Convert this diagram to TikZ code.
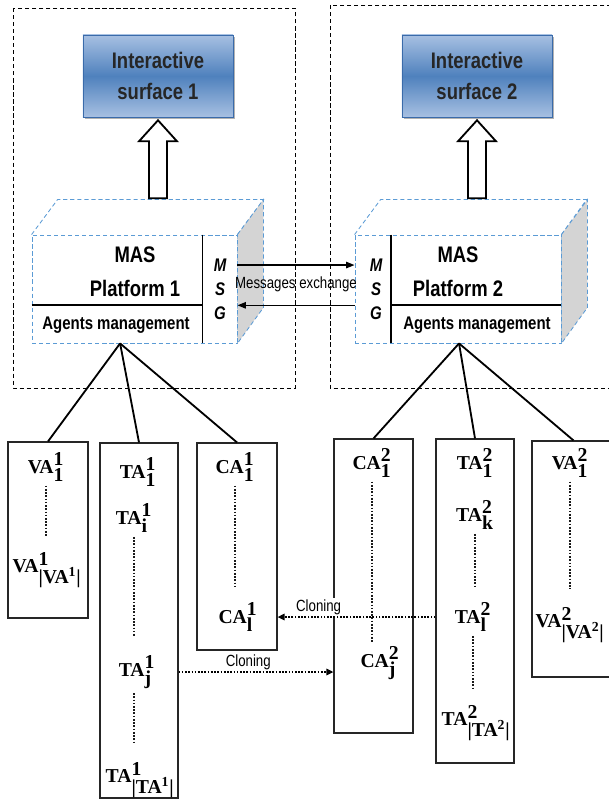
\documentclass[tikz,border=0pt]{standalone}
\usepackage{fontspec}
\setmainfont{Liberation Serif}
\setsansfont{Liberation Sans}[FakeStretch=0.82]
\usetikzlibrary{calc,fit,shadows,arrows.meta}
\definecolor{surfTop}{HTML}{A7C0E2}
\definecolor{surfMid}{HTML}{4F81BD}
\definecolor{surfLine}{HTML}{3A6BAA}
\definecolor{boxBlue}{HTML}{5B9BD5}
\definecolor{sideGray}{HTML}{D4D4D4}
\tikzset{
	outerframe/.style={draw, line width=0.6pt, dash pattern=on 3pt off 2pt},
	surface/.style={
			draw=surfLine, top color=surfTop, bottom color=surfTop, middle color=surfMid,
			minimum width=3.75cm, minimum height=2.05cm, inner sep=0pt, align=center,
			font=\sffamily\bfseries\fontsize{16}{22.5}\selectfont, text=black!85,
			drop shadow={shadow xshift=1.5pt, shadow yshift=-1.5pt, fill=black!60, opacity=0.5}
		},
	platface/.style={draw=boxBlue, line width=0.6pt, dash pattern=on 3pt off 2pt},
	plattext/.style={align=center, font=\sffamily\bfseries\fontsize{16}{24.5}\selectfont},
	mgmttext/.style={font=\sffamily\bfseries\fontsize{13}{15}\selectfont},
	msgtext/.style={align=center, font=\sffamily\bfseries\itshape\fontsize{13}{17}\selectfont},
	agbox/.style={draw=black!85, line width=0.8pt, inner sep=0pt},
	aglabel/.style={inner sep=1pt, font=\fontsize{14}{16}\selectfont},
	tree/.style={line width=1.3pt},
	dotline/.style={line width=1.4pt, dash pattern=on 1.2pt off 1.1pt, black!90},
	clone/.style={line width=1.4pt, dash pattern=on 1.2pt off 1.1pt, -{Triangle[length=5pt,width=4.5pt]}},
	msgarrow/.style={line width=1.1pt, -{Triangle[length=6pt,width=4.5pt]}},
	smalltext/.style={font=\sffamily\fontsize{11.5}{13}\selectfont, inner sep=1pt}
}
\newcommand{\agt}[3]{$\textbf{#1}^{\textbf{#2}}_{\textbf{#3}}$}

\begin{document}
\begin{tikzpicture}[x=0.025cm, y=-0.025cm]
	\useasboundingbox (0,0) rectangle (609,800);
	\clip (0,0) rectangle (609,800);

	% dashed frames of the two sides
	\draw[outerframe] (13,8) rectangle (295,388);
	\draw[outerframe] (330,5) rectangle (615,388);

	% interactive surfaces
	\node[surface] (surf1) at (158,76) {Interactive\\surface 1};
	\node[surface] (surf2) at (477,76) {Interactive\\surface 2};

	% MAS platforms (front faces)
	\node[platface, fit={(32,235) (237,343)}, inner sep=0pt] (plat1) {};
	\node[platface, fit={(355,235) (561,343)}, inner sep=0pt] (plat2) {};
	\foreach \p in {plat1,plat2} {
		\draw[platface] (\p.north west) -- ++(26,-35) -- ++(206,0) -- (\p.north east);
		\filldraw[platface, fill=sideGray] (\p.north east) -- ++(26,-35) -- ++(0,108) -- (\p.south east) -- cycle;
	}

	% hollow arrows up to the surfaces
	\foreach \s in {surf1,surf2} {
		\draw[line width=1.3pt, fill=white] ($(\s.south)+(0,3)$) -- ++(19,21) -- ++(-10,0) -- ++(0,57)
			-- ++(-18,0) -- ++(0,-57) -- ++(-10,0) -- cycle;
	}

	% inner divisions
	\coordinate (v1t) at ($(plat1.north west)!0.83!(plat1.north east)$);
	\coordinate (v1b) at ($(plat1.south west)!0.83!(plat1.south east)$);
	\coordinate (h1) at ($(plat1.north west)!0.65!(plat1.south west)$);
	\draw[line width=1.2pt] (v1t) -- (v1b);
	\draw[line width=1.2pt] (h1) -- (h1 -| v1t);
	\coordinate (v2t) at ($(plat2.north west)!0.175!(plat2.north east)$);
	\coordinate (v2b) at ($(plat2.south west)!0.175!(plat2.south east)$);
	\coordinate (h2) at ($(plat2.north east)!0.65!(plat2.south east)$);
	\draw[line width=1.2pt] (v2t) -- (v2b);
	\draw[line width=1.2pt] (h2) -- (h2 -| v2t);

	\node[plattext] (mas1) at (135,272) {MAS\\Platform 1};
	\node[plattext] (mas2) at (458,272) {MAS\\Platform 2};
	\node[mgmttext] (mgmt1) at (116,325) {Agents management};
	\node[mgmttext] (mgmt2) at (477,325) {Agents management};
	\node[msgtext] (msg1) at (220,289) {M\\S\\G};
	\node[msgtext] (msg2) at (376,289) {M\\S\\G};

	% messages exchange
	\draw[msgarrow] ($(plat1.north east)!0.28!(plat1.south east)$) -- ($(plat2.north west)!0.28!(plat2.south west)$);
	\draw[msgarrow] ($(plat2.north west)!0.65!(plat2.south west)$) -- ($(plat1.north east)!0.65!(plat1.south east)$);
	\node[smalltext] (exch) at (296,284) {Messages exchange};

	% agent boxes
	\node[agbox, fit={(8,442) (88,618)}] (va1box) {};
	\node[agbox, fit={(100,443) (178,798)}] (ta1box) {};
	\node[agbox, fit={(197,443) (277,650)}] (ca1box) {};
	\node[agbox, fit={(334,439) (413,733)}] (ca2box) {};
	\node[agbox, fit={(436,439) (514,763)}] (ta2box) {};
	\node[agbox, fit={(532,441) (615,677)}] (va2box) {};

	% links to the platforms
	\coordinate (root1) at ($(plat1.south west)!0.43!(plat1.south east)$);
	\coordinate (root2) at ($(plat2.south west)!0.505!(plat2.south east)$);
	\foreach \b in {va1box,ta1box,ca1box} \draw[tree] (root1) -- (\b.north);
	\foreach \b in {ca2box,ta2box,va2box} \draw[tree] (root2) -- (\b.north);

	% agents of side 1
	\node[aglabel] (va1a) at (46,467) {\agt{VA}{1}{1}};
	\node[aglabel] (va1b) at (47,570) {\agt{VA}{1}{|VA\textsuperscript{1}|}};
	\node[aglabel] (ta1a) at (138,472) {\agt{TA}{1}{1}};
	\node[aglabel] (ta1i) at (134,518) {\agt{TA}{1}{i}};
	\node[aglabel] (ta1j) at (137,672) {\agt{TA}{1}{j}};
	\node[aglabel] (ta1n) at (140,780) {\agt{TA}{1}{|TA\textsuperscript{1}|}};
	\node[aglabel] (ca1a) at (235,467) {\agt{CA}{1}{1}};
	\node[aglabel] (ca1l) at (238,617) {\agt{CA}{1}{l}};

	% agents of side 2
	\node[aglabel] (ca2a) at (372,463) {\agt{CA}{2}{1}};
	\node[aglabel] (ca2j) at (380,663) {\agt{CA}{2}{j}};
	\node[aglabel] (ta2a) at (475,463) {\agt{TA}{2}{1}};
	\node[aglabel] (ta2k) at (475,515) {\agt{TA}{2}{k}};
	\node[aglabel] (ta2l) at (473,617) {\agt{TA}{2}{l}};
	\node[aglabel] (ta2n) at (476,723) {\agt{TA}{2}{|TA\textsuperscript{2}|}};
	\node[aglabel] (va2a) at (570,463) {\agt{VA}{2}{1}};
	\node[aglabel] (va2b) at (570,625) {\agt{VA}{2}{|VA\textsuperscript{2}|}};

	% dotted runs between agents
	\draw[dotline] ([yshift=-2pt]va1a.south) -- ([yshift=10pt]va1a.south |- va1b.north);
	\draw[dotline] ([yshift=-2pt]ta1i.south) -- ([yshift=12pt]ta1i.south |- ta1j.north);
	\draw[dotline] ([yshift=-2pt]ta1i.south |- ta1j.south) -- ([yshift=12pt]ta1i.south |- ta1n.north);
	\draw[dotline] ([yshift=-2pt]ca1a.south) -- ([yshift=10pt]ca1a.south |- ca1l.north);
	\draw[dotline] ([yshift=-2pt]ca2a.south) -- ([yshift=2pt]ca2a.south |- ca2j.north);
	\draw[dotline] ([yshift=-2pt]ta2k.south) -- ([yshift=10pt]ta2k.south |- ta2l.north);
	\draw[dotline] ([yshift=-2pt]ta2l.south) -- ([yshift=10pt]ta2l.south |- ta2n.north);
	\draw[dotline] ([yshift=-2pt]va2a.south) -- ([yshift=12pt]va2a.south |- va2b.north);

	% cloning
	\draw[clone] (ta2box.west |- ta2l) -- node[pos=0.74, above, smalltext, fill=white] {Cloning} (ca1box.east |- ta2l);
	\draw[clone] (ta1box.east |- ta1j) -- node[pos=0.45, above, smalltext] {Cloning} (ca2box.west |- ta1j);
\end{tikzpicture}
\end{document}
